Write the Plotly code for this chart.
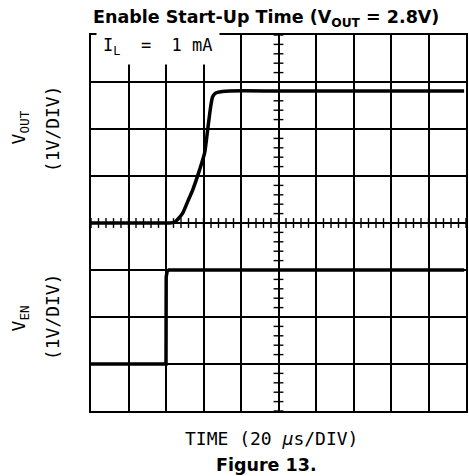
import plotly.graph_objects as go

# ---- data (read from the scope capture) ----
time_vout_us = [0, 38, 42, 44.7, 46.3, 48.9, 51.5, 54.2, 57.9, 60.6, 62.2, 63.8, 64.8, 66.0, 67.5, 70.0, 74.0, 100, 140, 180, 199]
vout_v = [0, 0, 0, 0.02, 0.08, 0.21, 0.45, 0.70, 1.13, 1.49, 1.98, 2.47, 2.68, 2.75, 2.78, 2.80, 2.81, 2.81, 2.81, 2.81, 2.81]

time_ven_us = [0, 40, 40.1, 40.6, 41.5, 100, 199]
ven_v = [0, 0, 1.85, 1.97, 2.0, 2.0, 2.0]

title_text = "Enable Start-Up Time (V<sub>OUT</sub> = 2.8V)"
x_label = "TIME (20 <i>\u03bc</i>s/DIV)"
caption = "Figure 13."
load_note = "I<sub>L</sub>\u00a0\u00a0=\u00a0\u00a01\u00a0mA"

# ---- layout geometry ----
W, H = 469, 476
ML, MR, MT, MB = 91, 1, 35, 65
PW, PH = W - ML - MR, H - MT - MB


def px(x):
    return (x - ML) / PW


def py(y):
    return (H - MB - y) / PH


mono = "DejaVu Sans Mono"
bold = "DejaVu Sans"

fig = go.Figure()

# centre crosshair minor ticks
tx = [i * 4 for i in range(51)]
fig.add_trace(go.Scatter(x=tx, y=[0] * len(tx), mode="markers",
                         marker=dict(symbol="line-ns", size=7, line=dict(width=1.4, color="black")),
                         hoverinfo="skip", showlegend=False))
ty = [-4 + i * 0.2 for i in range(41)]
fig.add_trace(go.Scatter(x=[100] * len(ty), y=ty, mode="markers",
                         marker=dict(symbol="line-ew", size=7, line=dict(width=1.4, color="black")),
                         hoverinfo="skip", showlegend=False))

fig.add_trace(go.Scatter(x=time_vout_us, y=vout_v, mode="lines",
                         line=dict(color="black", width=3.5, shape="spline", smoothing=0.6),
                         showlegend=False, name="VOUT"))
fig.add_trace(go.Scatter(x=time_ven_us, y=ven_v, mode="lines", yaxis="y2",
                         line=dict(color="black", width=3.5),
                         showlegend=False, name="VEN"))

fig.update_layout(
    width=W, height=H,
    margin=dict(l=ML, r=MR, t=MT, b=MB),
    paper_bgcolor="white", plot_bgcolor="white",
    showlegend=False,
    xaxis=dict(range=[0, 200], dtick=20, showgrid=True, gridcolor="black", gridwidth=1.5,
               showticklabels=False, ticks="", zeroline=False,
               showline=True, linecolor="black", linewidth=2, mirror=True, fixedrange=True),
    yaxis=dict(range=[-4, 4], dtick=1, showgrid=True, gridcolor="black", gridwidth=1.5,
               showticklabels=False, ticks="", zeroline=False,
               showline=True, linecolor="black", linewidth=2, mirror=True, fixedrange=True),
    yaxis2=dict(range=[-1, 7], overlaying="y", visible=False, showgrid=False, zeroline=False),
)

ann = []
ann.append(dict(text="<b>" + title_text + "</b>", x=px(267), y=py(19), xref="paper", yref="paper",
                showarrow=False, font=dict(family=bold, size=17.5, color="black"), xanchor="center", yanchor="middle"))
ann.append(dict(text=load_note, x=px(96), y=py(46), xref="paper", yref="paper",
                showarrow=False, font=dict(family=mono, size=17, color="black"), xanchor="left", yanchor="middle",
                bgcolor="white", borderpad=6))
for txt, xx, yy in [("V<sub>OUT</sub>", 20, 127), ("(1V/DIV)", 52, 129),
                    ("V<sub>EN</sub>", 20, 318), ("(1V/DIV)", 52, 317)]:
    ann.append(dict(text=txt, x=px(xx), y=py(yy), xref="paper", yref="paper", textangle=-90,
                    showarrow=False, font=dict(family=mono, size=18, color="black"),
                    xanchor="center", yanchor="middle"))
ann.append(dict(text=x_label, x=px(272), y=py(438), xref="paper", yref="paper",
                showarrow=False, font=dict(family=mono, size=18, color="black"), xanchor="center", yanchor="middle"))
ann.append(dict(text="<b>" + caption + "</b>", x=px(267), y=py(465), xref="paper", yref="paper",
                showarrow=False, font=dict(family=bold, size=17.5, color="black"), xanchor="center", yanchor="middle"))
fig.update_layout(annotations=ann)

fig.write_html("out.html", config=dict(displayModeBar=False),
               post_script="document.body.style.margin='0px';document.body.style.padding='0px';")
